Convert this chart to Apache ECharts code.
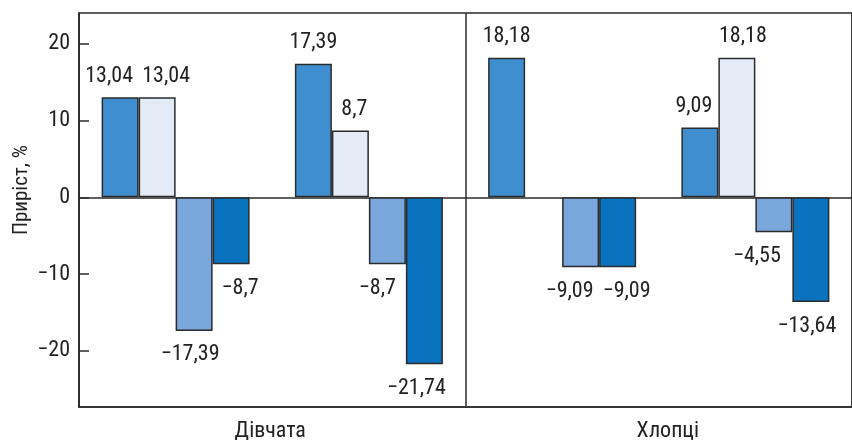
<!DOCTYPE html>
<html>
<head>
<meta charset="utf-8">
<script src="https://cdn.jsdelivr.net/npm/echarts@6/dist/echarts.min.js"></script>
<style>
  html, body { margin: 0; padding: 0; background: #fff; }
  #chart { width: 852px; height: 440px; }
</style>
</head>
<body>
<div id="chart"></div>
<script>
// Panels (bottom labels) and the two groups of bars inside each panel
const panels = ['Дівчата', 'Хлопці'];
const groups = ['Дівчата', 'Дівчата', 'Хлопці', 'Хлопці'];

// Four indicators per group, growth in %
const seriesA = [13.04, 17.39, 18.18, 9.09];
const seriesB = [13.04, 8.7, null, 18.18];
const seriesC = [-17.39, -8.7, -9.09, -4.55];
const seriesD = [-8.7, -21.74, -9.09, -13.64];

const yTicks = [-20, -10, 0, 10, 20];

const colors = ['#3f8fd0', '#e3ebf7', '#7aa7db', '#0a73c0'];
const FONT = '"Roboto Condensed", "DejaVu Sans Condensed", "Liberation Sans", sans-serif';
const INK = '#2b2b2b';

// horizontal nudges (series-index) so neighbouring value labels don't collide
const labelShift = {
  '0-0': -11, '1-0': 9, '2-0': -4, '3-0': 9,
  '1-1': 4, '2-1': -10, '3-1': -8,
  '2-2': -11, '3-2': 9,
  '0-3': -6, '1-3': 6, '2-3': -17, '3-3': -4
};

function fmt(v) {
  return String(v).replace('.', ',').replace('-', '\u2212');
}

function makeSeries(values, si) {
  return {
    type: 'bar',
    xAxisIndex: 0,
    barWidth: 37,
    barGap: '0%',
    data: values.map((v, i) => {
      if (v === null) return '-';
      const dx = labelShift[si + '-' + i] || 0;
      return {
        value: v,
        label: {
          position: v >= 0 ? 'top' : 'bottom',
          distance: v >= 0 ? 10 : 13,
          offset: [dx, 0]
        }
      };
    }),
    itemStyle: { color: colors[si], borderColor: INK, borderWidth: 1.5 },
    label: {
      show: true,
      color: '#222',
      fontFamily: FONT,
      fontSize: 22,
      formatter: p => fmt(p.value)
    },
    animation: false
  };
}

const chart = echarts.init(document.getElementById('chart'));
chart.setOption({
  animation: false,
  backgroundColor: '#fff',
  grid: {
    left: 79, right: 0, top: 13, bottom: 33,
    containLabel: false,
    outerBoundsMode: 'none',
    show: true, borderColor: INK, borderWidth: 1.5
  },
  xAxis: [
    {
      type: 'category',
      data: groups,
      position: 'bottom',
      axisLine: { onZero: true, lineStyle: { color: INK, width: 1.5 } },
      axisTick: { show: false },
      axisLabel: { show: false },
      splitLine: { show: false }
    },
    {
      type: 'category',
      data: panels,
      position: 'bottom',
      axisLine: { onZero: false, lineStyle: { color: INK, width: 1.5 } },
      axisTick: { show: false },
      axisLabel: {
        color: '#222', fontFamily: FONT, fontSize: 22, margin: 13,
        formatter: (v, i) => (i === 0 ? '{g|' + v + '}' : '{b|' + v + '}'),
        rich: {
          g: { fontFamily: FONT, fontSize: 22, color: '#222', padding: [0, 4, 0, 0] },
          b: { fontFamily: FONT, fontSize: 22, color: '#222', padding: [0, 0, 0, 18] }
        }
      },
      splitLine: { show: true, lineStyle: { color: INK, width: 1.5 } }
    }
  ],
  yAxis: {
    type: 'value',
    min: -27.3,
    max: 24,
    name: 'Приріст, %',
    nameLocation: 'middle',
    nameRotate: 90,
    nameGap: 47,
    nameMoveOverlap: false,
    nameTextStyle: { color: '#222', fontFamily: FONT, fontSize: 21, padding: [0, 0, 0, 40] },
    axisLine: { show: true, lineStyle: { color: INK, width: 1.5 } },
    axisTick: {
      show: true, inside: true, length: 10,
      lineStyle: { color: INK, width: 1.5 },
      customValues: yTicks
    },
    axisLabel: {
      color: '#222', fontFamily: FONT, fontSize: 22, margin: 9,
      customValues: yTicks,
      formatter: v => fmt(v)
    },
    splitLine: { show: false }
  },
  series: [
    makeSeries(seriesA, 0),
    makeSeries(seriesB, 1),
    makeSeries(seriesC, 2),
    makeSeries(seriesD, 3)
  ]
});
</script>
</body>
</html>
